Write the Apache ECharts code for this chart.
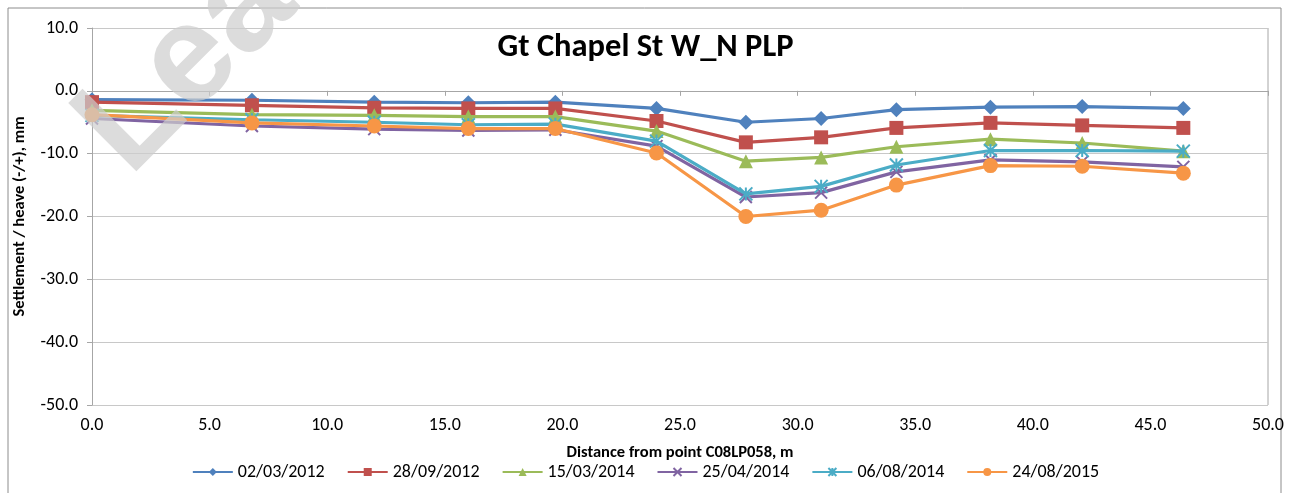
<!DOCTYPE html>
<html>
<head>
<meta charset="utf-8">
<script src="https://cdn.jsdelivr.net/npm/echarts@6/dist/echarts.min.js"></script>
<style>
  html, body { margin: 0; padding: 0; background: #fff; }
  #chart { width: 1291px; height: 493px; }
</style>
</head>
<body>
<div id="chart"></div>
<script>
// distance from point C08LP058, m
const distances = [0.0, 6.8, 12.0, 16.0, 19.7, 24.0, 27.8, 31.0, 34.2, 38.2, 42.1, 46.4];

// settlement / heave per survey date, mm
const s20120302 = [-1.4, -1.5, -1.8, -1.9, -1.8, -2.8, -5.0, -4.4, -3.0, -2.6, -2.5, -2.8];
const s20120928 = [-1.8, -2.3, -2.7, -2.8, -2.8, -4.8, -8.2, -7.4, -5.9, -5.1, -5.5, -5.9];
const s20140315 = [-3.1, -3.8, -3.9, -4.1, -4.1, -6.4, -11.2, -10.6, -8.9, -7.7, -8.3, -9.6];
const s20140425 = [-4.4, -5.6, -6.1, -6.3, -6.2, -8.8, -16.9, -16.2, -12.9, -11.0, -11.3, -12.1];
const s20140806 = [-3.9, -4.6, -5.0, -5.4, -5.3, -8.0, -16.4, -15.2, -11.8, -9.5, -9.5, -9.6];
const s20150824 = [-3.8, -5.1, -5.6, -6.0, -6.0, -9.9, -20.0, -19.0, -15.0, -11.9, -12.0, -13.1];

const xTicks = [0, 5, 10, 15, 20, 25, 30, 35, 40, 45, 50];
const yTicks = [-50, -40, -30, -20, -10, 0, 10];

const seriesNames = ['02/03/2012', '28/09/2012', '15/03/2014', '25/04/2014', '06/08/2014', '24/08/2015'];
const seriesData = [s20120302, s20120928, s20140315, s20140425, s20140806, s20150824];
const colors = ['#4F81BD', '#C0504D', '#9BBB59', '#8064A2', '#4BACC6', '#F79646'];

const crossPath = 'path://M0,0L10,10M10,0L0,10';
const starPath = 'path://M0,0L10,10M10,0L0,10M5,0L5,10';
const symbols = ['diamond', 'rect', 'triangle', crossPath, starPath, 'circle'];
const sizes = [15, 14, 14, 12, 13, 15];

const font = 'Carlito, Lato, "Liberation Sans", sans-serif';

let chart = echarts.init(document.getElementById('chart'));

let series = seriesNames.map(function (name, i) {
    const stroked = i === 3 || i === 4;
    return {
        name: name,
        type: 'line',
        data: distances.map(function (d, k) { return [d, seriesData[i][k]]; }),
        symbol: symbols[i],
        symbolSize: sizes[i],
        showAllSymbol: true,
        lineStyle: { color: colors[i], width: 3.2 },
        itemStyle: {
            color: stroked ? 'rgba(0,0,0,0)' : colors[i],
            borderColor: colors[i],
            borderWidth: stroked ? 2 : 0
        },
        emphasis: { disabled: true },
        z: 2 + i
    };
});

chart.setOption({
    animation: false,
    textStyle: { fontFamily: font },
    title: {
        text: 'Gt Chapel St W_N PLP',
        left: 'center',
        top: 26,
        textStyle: { fontSize: 32.5, fontWeight: 'bold', color: '#000', fontFamily: font }
    },
    legend: {
        data: seriesNames,
        bottom: 7,
        left: 'center',
        itemWidth: 40,
        itemHeight: 10,
        itemGap: 22,
        textStyle: { fontSize: 18, color: '#000' }
    },
    grid: { left: 92, right: 23, top: 28, bottom: 88 },
    xAxis: {
        type: 'value',
        min: xTicks[0],
        max: xTicks[xTicks.length - 1],
        interval: 5,
        name: 'Distance from point C08LP058, m',
        nameLocation: 'middle',
        nameGap: 39,
        nameTextStyle: { fontSize: 16.5, fontWeight: 'bold', color: '#000' },
        axisLine: { show: true, lineStyle: { color: '#a6a6a6' } },
        axisTick: { show: true, length: 5, lineStyle: { color: '#a6a6a6' } },
        axisLabel: { fontSize: 18, color: '#000', margin: 11, formatter: function (v) { return v.toFixed(1); } },
        splitLine: { show: false }
    },
    yAxis: {
        type: 'value',
        min: yTicks[0],
        max: yTicks[yTicks.length - 1],
        interval: 10,
        name: 'Settlement / heave (-/+), mm',
        nameLocation: 'middle',
        nameGap: 64,
        nameTextStyle: { fontSize: 16.5, fontWeight: 'bold', color: '#000' },
        axisLine: { show: true, lineStyle: { color: '#a6a6a6' } },
        axisTick: { show: true, length: 5, lineStyle: { color: '#a6a6a6' } },
        axisLabel: { fontSize: 18, color: '#000', margin: 14, formatter: function (v) { return v.toFixed(1); } },
        splitLine: { show: true, lineStyle: { color: '#c8c8c8', width: 1.2 } }
    },
    graphic: [
        // outer chart frame
        {
            type: 'rect',
            shape: { x: 8, y: 8, width: 1273, height: 500 },
            style: { fill: null, stroke: '#8c8c8c', lineWidth: 1 },
            silent: true,
            z: 0
        },
        // plot area right edge
        {
            type: 'line',
            shape: { x1: 1268, y1: 28, x2: 1268, y2: 405 },
            style: { stroke: '#a6a6a6', lineWidth: 1 },
            silent: true
        },
        // watermark
        {
            type: 'text',
            x: 152,
            y: 200,
            rotation: Math.PI / 4,
            style: {
                text: 'Lea',
                fontSize: 140,
                fontWeight: 'bold',
                fontFamily: '"Liberation Sans", sans-serif',
                fill: 'rgba(205,205,205,0.7)',
                verticalAlign: 'bottom'
            },
            silent: true,
            z: 100
        }
    ],
    series: series
});
</script>
</body>
</html>
